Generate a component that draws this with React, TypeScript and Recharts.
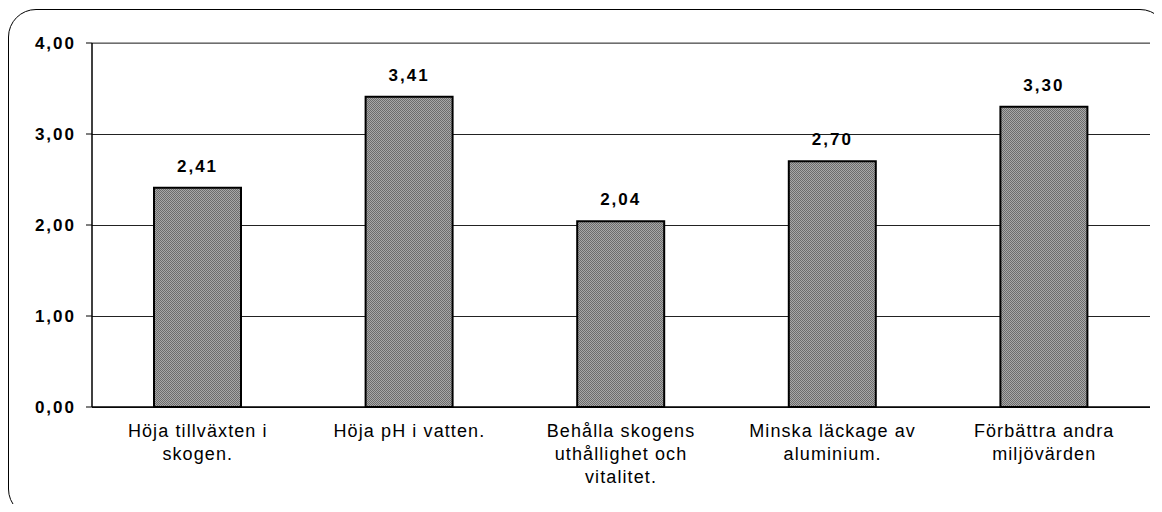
import React from "react";
import { BarChart, Bar, XAxis, YAxis, CartesianGrid, LabelList, ReferenceLine } from "recharts";

const categories = [
  "Höja tillväxten i\nskogen.",
  "Höja pH i vatten.",
  "Behålla skogens\nuthållighet och\nvitalitet.",
  "Minska läckage av\naluminium.",
  "Förbättra andra\nmiljövärden",
];
const values = [2.41, 3.41, 2.04, 2.7, 3.3];
const yTicks = [0, 1, 2, 3, 4];
const boundaryTicks = [0, 1, 2, 3, 4, 5];

const data = categories.map((c, i) => ({ name: c, value: values[i] }));

const FONT = "'Liberation Sans', Arial, sans-serif";
const fmt = (v: number) => v.toFixed(2).replace(".", ",");

const CatTick = (props: any) => {
  const { x, y, payload } = props;
  const lines = String(payload.value).split("\n");
  return (
    <text x={x} y={y} textAnchor="middle" fontFamily={FONT} fontSize={18} letterSpacing={1.1} fill="#000">
      {lines.map((l, i) => (
        <tspan key={i} x={x} dy={i === 0 ? 22 : 23}>
          {l}
        </tspan>
      ))}
    </text>
  );
};

export default function App() {
  return (
    <div style={{ position: "relative", width: 1162, height: 512, margin: -8, background: "#fff", overflow: "hidden" }}>
      <div
        style={{
          position: "absolute",
          left: 8,
          top: 9,
          width: 1160,
          height: 508,
          border: "1.6px solid #000",
          borderRadius: 28,
          boxSizing: "border-box",
        }}
      />
      <div style={{ position: "absolute", left: 0, top: 0 }}>
        <BarChart
          width={1162}
          height={512}
          data={data}
          margin={{ top: 43, right: 12, left: 0, bottom: 25 }}
        >
          <defs>
            <pattern id="hatch" width="2" height="2" patternUnits="userSpaceOnUse">
              <rect width="2" height="2" fill="#a8a8a8" />
              <rect width="1" height="1" fill="#6c6c6c" />
              <rect x="1" y="1" width="1" height="1" fill="#6c6c6c" />
            </pattern>
          </defs>
          <CartesianGrid vertical={false} stroke="#222" strokeWidth={1} shapeRendering="crispEdges" />
          <XAxis
            xAxisId="b"
            type="number"
            domain={[0, 5]}
            ticks={boundaryTicks}
            allowDataOverflow
            height={0}
            axisLine={false}
            tickLine={{ stroke: "#000", strokeWidth: 1 }}
            tickSize={6}
            tick={() => <g />}
          />
          <XAxis
            dataKey="name"
            height={80}
            axisLine={{ stroke: "#000", strokeWidth: 1.5 }}
            tickLine={false}
            tick={<CatTick />}
            interval={0}
          />
          <YAxis
            width={92}
            domain={[0, 4]}
            ticks={yTicks}
            tickFormatter={fmt}
            axisLine={{ stroke: "#000", strokeWidth: 1.5 }}
            tickLine={{ stroke: "#000", strokeWidth: 1 }}
            tickSize={6}
            tickMargin={10}
            tick={{ fontFamily: FONT, fontSize: 17, fontWeight: "bold", fill: "#000", letterSpacing: 2 }}
          />
          <ReferenceLine y={4} stroke="#888" strokeWidth={1.5} />
          <ReferenceLine xAxisId="b" x={5} stroke="#888" strokeWidth={1.5} />
          <Bar dataKey="value" barSize={87} fill="url(#hatch)" stroke="#000" strokeWidth={2} isAnimationActive={false}>
            <LabelList
              dataKey="value"
              position="top"
              offset={16}
              formatter={(v: any) => fmt(Number(v))}
              style={{ fontFamily: FONT, fontSize: 17, fontWeight: "bold", fill: "#000", letterSpacing: 2 }}
            />
          </Bar>
        </BarChart>
      </div>
    </div>
  );
}
